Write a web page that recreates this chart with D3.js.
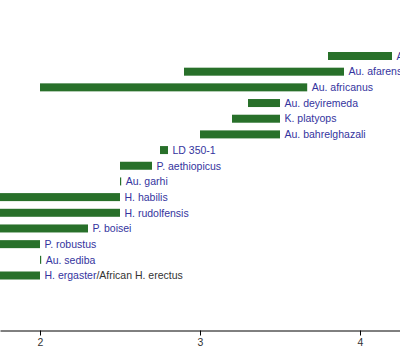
<!DOCTYPE html>
<html>
<head>
<meta charset="utf-8">
<script src="https://cdn.jsdelivr.net/npm/d3@7"></script>
<style>
  html, body { margin: 0; padding: 0; background: #fff; }
  svg { display: block; }
</style>
</head>
<body>
<svg id="chart" width="400" height="350"></svg>
<script>
// Hominin taxa, top to bottom
const species = [
  "Au. anamensis", "Au. afarensis", "Au. africanus", "Au. deyiremeda",
  "K. platyops", "Au. bahrelghazali", "LD 350-1", "P. aethiopicus",
  "Au. garhi", "H. habilis", "H. rudolfensis", "P. boisei",
  "P. robustus", "Au. sediba", "H. ergaster"
];
// Oldest appearance (million years ago)
const oldest = [4.2, 3.9, 3.67, 3.5, 3.5, 3.5, 2.8, 2.7, 2.5, 2.5, 2.5, 2.3, 2.0, 2.0, 2.0];
// Youngest appearance (million years ago)
const youngest = [3.8, 2.9, 2.0, 3.3, 3.2, 3.0, 2.75, 2.5, 2.5, 1.4, 1.7, 1.2, 1.2, 2.0, 1.3];
// Extra text after the linked name, drawn in grey
const suffix = ["", "", "", "", "", "", "", "", "", "", "", "", "", "", "/African H. erectus"];
// Axis ticks (Ma)
const tickValues = [2, 3, 4];

const rows = species.map((name, i) => ({
  name, oldest: oldest[i], youngest: youngest[i], suffix: suffix[i]
}));

const svg = d3.select("#chart");
const W = 400, H = 350;

const x = d3.scaleLinear().domain([1.75, 4.25]).range([0, W]);
const y = d3.scalePoint().domain(species).range([56, 275.5]);
const barH = 8;
const minW = 1.2;

const barColor = "#28702a";
const linkColor = "#34349e";

// Range bars
svg.append("g").selectAll("rect")
  .data(rows)
  .join("rect")
  .attr("x", d => x(d.youngest))
  .attr("y", d => y(d.name) - barH / 2)
  .attr("width", d => Math.max(minW, x(d.oldest) - x(d.youngest)))
  .attr("height", barH)
  .attr("fill", barColor);

// Names to the right of each bar
const labels = svg.append("g").selectAll("text")
  .data(rows)
  .join("text")
  .attr("x", d => Math.max(x(d.oldest), x(d.youngest) + minW) + 4.5)
  .attr("y", d => y(d.name))
  .attr("dy", "0.36em")
  .attr("font-family", "'Liberation Sans', Arial, sans-serif")
  .attr("font-size", 10.5);

labels.append("tspan")
  .attr("fill", linkColor)
  .text(d => d.name);
labels.filter(d => d.suffix).append("tspan")
  .attr("fill", "#333")
  .text(d => d.suffix);

// Time axis
const axis = d3.axisBottom(x)
  .tickValues(tickValues)
  .tickFormat(d3.format("d"))
  .tickSizeOuter(0)
  .tickSizeInner(5)
  .tickPadding(3);

const gx = svg.append("g")
  .attr("transform", "translate(0,330.5)")
  .call(axis);
gx.select(".domain").attr("stroke", "#000").attr("stroke-width", 1);
gx.selectAll(".tick line").attr("stroke", "#000");
gx.selectAll(".tick text")
  .attr("fill", "#333")
  .attr("font-family", "'Liberation Sans', Arial, sans-serif")
  .attr("font-size", 10.5);
</script>
</body>
</html>
